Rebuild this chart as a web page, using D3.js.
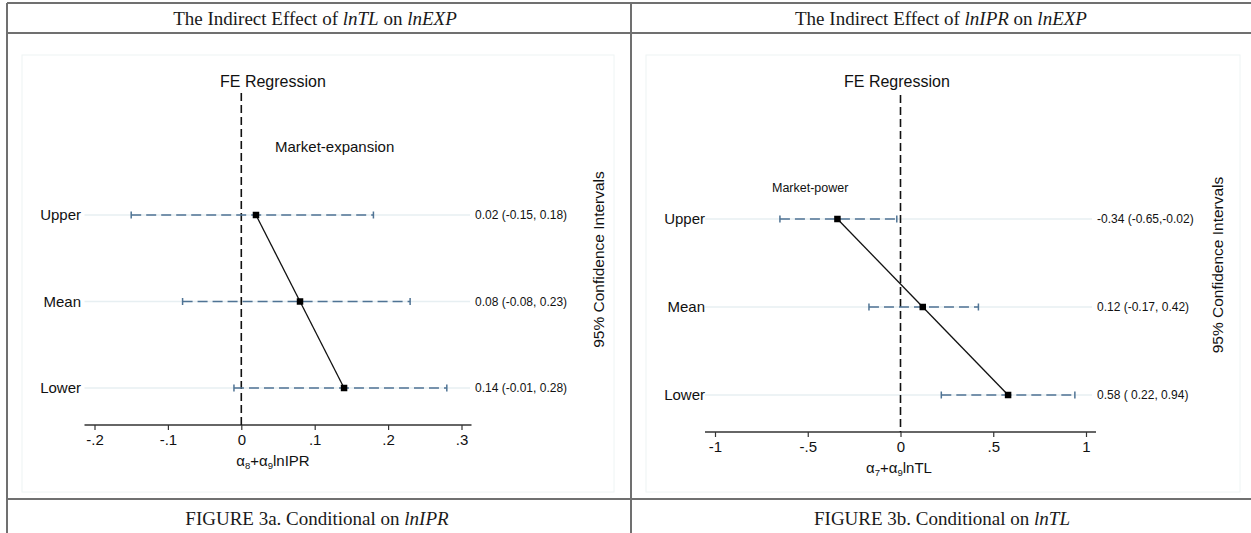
<!DOCTYPE html>
<html>
<head>
<meta charset="utf-8">
<script src="https://cdn.jsdelivr.net/npm/d3@7"></script>
<style>
  html, body { margin: 0; padding: 0; background: #fff; }
  svg { display: block; }
</style>
</head>
<body>
<svg id="chart" width="1251" height="533"></svg>
<script>
// ---------- data ----------
const categories = ["Upper", "Mean", "Lower"];

const estA = [0.02, 0.08, 0.14];
const lowA = [-0.15, -0.08, -0.01];
const highA = [0.18, 0.23, 0.28];
const ciLabelsA = ["0.02 (-0.15, 0.18)", "0.08 (-0.08, 0.23)", "0.14 (-0.01, 0.28)"];
const ticksA = [-0.2, -0.1, 0, 0.1, 0.2, 0.3];
const tickLabelsA = ["-.2", "-.1", "0", ".1", ".2", ".3"];

const estB = [-0.34, 0.12, 0.58];
const lowB = [-0.65, -0.17, 0.22];
const highB = [-0.02, 0.42, 0.94];
const ciLabelsB = ["-0.34 (-0.65,-0.02)", "0.12 (-0.17, 0.42)", "0.58 ( 0.22, 0.94)"];
const ticksB = [-1, -0.5, 0, 0.5, 1];
const tickLabelsB = ["-1", "-.5", "0", ".5", "1"];

const headers = [["The Indirect Effect of ", "lnTL", " on ", "lnEXP"],
                 ["The Indirect Effect of ", "lnIPR", " on ", "lnEXP"]];
const captions = [["FIGURE 3a. Conditional on ", "lnIPR"],
                  ["FIGURE 3b. Conditional on ", "lnTL"]];

// ---------- layout ----------
const svg = d3.select("#chart");
const SANS = "'Liberation Sans', Arial, Helvetica, sans-serif";
const SERIF = "'Liberation Serif', 'Times New Roman', serif";

// table frame
const frame = svg.append("g").attr("stroke", "#707070").attr("stroke-width", 2).attr("fill", "none");
frame.append("line").attr("x1", 7).attr("x2", 1251).attr("y1", 3).attr("y2", 3);
frame.append("line").attr("x1", 7).attr("x2", 1251).attr("y1", 33).attr("y2", 33);
frame.append("line").attr("x1", 7).attr("x2", 1251).attr("y1", 499).attr("y2", 499);
frame.append("line").attr("x1", 7).attr("x2", 7).attr("y1", 3).attr("y2", 533);
frame.append("line").attr("x1", 631).attr("x2", 631).attr("y1", 3).attr("y2", 533);

function serifText(parts, x, y) {
  const t = svg.append("text").attr("x", x).attr("y", y).attr("text-anchor", "middle")
    .attr("font-family", SERIF).attr("font-size", 19).attr("fill", "#1a1a1a");
  parts.forEach((p, i) => {
    t.append("tspan").text(p).attr("font-style", i % 2 === 1 ? "italic" : "normal");
  });
}
serifText(headers[0], 315, 25);
serifText(headers[1], 941, 25);
serifText(captions[0], 317, 525);
serifText(captions[1], 942, 525);

const panels = [
  {
    est: estA, low: lowA, high: highA, labels: ciLabelsA, ticks: ticksA, tickLabels: tickLabelsA,
    domain: [-0.2, 0.3], range: [94.5, 461.5], axisY: 425, yRange: [215, 388],
    box: [22, 55, 614, 492], catX: 81, ciX: 475, rotX: 604, feX: 220, feY: 87, zeroTop: 93,
    note: "Market-expansion", noteX: 275, noteY: 152, noteSize: 15,
    sub: ["\u03b1", "8", "+\u03b1", "9", "lnIPR"], subX: 273
  },
  {
    est: estB, low: lowB, high: highB, labels: ciLabelsB, ticks: ticksB, tickLabels: tickLabelsB,
    domain: [-1, 1], range: [715, 1086], axisY: 432, yRange: [219, 395],
    box: [646, 55, 1240, 492], catX: 705, ciX: 1097, rotX: 1223, feX: 844, feY: 87, zeroTop: 95,
    note: "Market-power", noteX: 772, noteY: 192, noteSize: 12.5,
    sub: ["\u03b1", "7", "+\u03b1", "9", "lnTL"], subX: 899
  }
];

panels.forEach(p => {
  const g = svg.append("g");
  const x = d3.scaleLinear().domain(p.domain).range(p.range);
  const y = d3.scalePoint().domain(categories).range(p.yRange);

  // faint graph region outline
  g.append("rect").attr("x", p.box[0]).attr("y", p.box[1])
    .attr("width", p.box[2] - p.box[0]).attr("height", p.box[3] - p.box[1])
    .attr("fill", "none").attr("stroke", "#eef4f4").attr("stroke-width", 1);

  // gridlines
  g.selectAll(".grid").data(categories).join("line")
    .attr("x1", p.range[0] - 10).attr("x2", p.ciX - 5)
    .attr("y1", d => y(d)).attr("y2", d => y(d))
    .attr("stroke", "#e7eff2").attr("stroke-width", 1.5);

  // category labels
  g.selectAll(".cat").data(categories).join("text")
    .attr("x", p.catX).attr("y", d => y(d)).attr("dy", "0.35em")
    .attr("text-anchor", "end").attr("font-family", SANS).attr("font-size", 15)
    .attr("fill", "#111").text(d => d);

  // x axis
  const axis = d3.axisBottom(x).tickValues(p.ticks)
    .tickFormat((d, i) => p.tickLabels[i]).tickSizeOuter(0).tickSize(5).tickPadding(4);
  const ag = g.append("g").attr("transform", `translate(0,${p.axisY})`).call(axis);
  ag.select(".domain").attr("d", `M${p.range[0] - 10},0H${p.range[1] + 10}`)
    .attr("stroke", "#333").attr("stroke-width", 1.3);
  ag.selectAll(".tick line").attr("stroke", "#333").attr("stroke-width", 1.2);
  ag.selectAll(".tick text").attr("font-family", SANS).attr("font-size", 15).attr("fill", "#111");

  // axis title with subscripts
  const at = g.append("text").attr("x", p.subX).attr("y", p.axisY + 41)
    .attr("text-anchor", "middle").attr("font-family", SANS).attr("font-size", 15).attr("fill", "#111");
  p.sub.forEach((s, i) => {
    const ts = at.append("tspan").text(s);
    if (i % 2 === 1) ts.attr("font-size", 9.5).attr("dy", 3);
    else if (i > 0) ts.attr("dy", -3);
  });

  // zero reference line
  g.append("line").attr("x1", x(0)).attr("x2", x(0))
    .attr("y1", p.zeroTop).attr("y2", p.axisY)
    .attr("stroke", "#111").attr("stroke-width", 1.6).attr("stroke-dasharray", "8,4");

  // FE Regression
  g.append("text").attr("x", p.feX).attr("y", p.feY).attr("font-family", SANS)
    .attr("font-size", 16).attr("fill", "#111").text("FE Regression");

  // note
  g.append("text").attr("x", p.noteX).attr("y", p.noteY).attr("font-family", SANS)
    .attr("font-size", p.noteSize).attr("fill", "#111").text(p.note);

  // CIs
  const rows = categories.map((c, i) => ({ c, est: p.est[i], lo: p.low[i], hi: p.high[i], lab: p.labels[i] }));
  g.selectAll(".ci").data(rows).join("line")
    .attr("x1", d => x(d.lo)).attr("x2", d => x(d.hi))
    .attr("y1", d => y(d.c)).attr("y2", d => y(d.c))
    .attr("stroke", "#4f7394").attr("stroke-width", 1.5).attr("stroke-dasharray", "10,5");
  ["lo", "hi"].forEach(k => {
    g.selectAll(".cap" + k).data(rows).join("line")
      .attr("x1", d => x(d[k])).attr("x2", d => x(d[k]))
      .attr("y1", d => y(d.c) - 3.5).attr("y2", d => y(d.c) + 3.5)
      .attr("stroke", "#4f7394").attr("stroke-width", 1.5);
  });

  // connecting line
  const line = d3.line().x(d => x(d.est)).y(d => y(d.c));
  g.append("path").datum(rows).attr("d", line).attr("fill", "none")
    .attr("stroke", "#111").attr("stroke-width", 1.3);

  // markers
  g.selectAll(".pt").data(rows).join("rect")
    .attr("x", d => x(d.est) - 3.25).attr("y", d => y(d.c) - 3.25)
    .attr("width", 6.5).attr("height", 6.5).attr("fill", "#000");

  // CI labels
  g.selectAll(".lab").data(rows).join("text")
    .attr("x", p.ciX).attr("y", d => y(d.c)).attr("dy", "0.35em")
    .attr("font-family", SANS).attr("font-size", 12).attr("fill", "#111").text(d => d.lab);

  // rotated title
  const mid = (p.yRange[0] + p.yRange[1]) / 2 - 42;
  g.append("text").attr("transform", `translate(${p.rotX},${mid}) rotate(-90)`)
    .attr("text-anchor", "middle").attr("font-family", SANS).attr("font-size", 15.5)
    .attr("fill", "#111").text("95% Confidence Intervals");
});
</script>
</body>
</html>
